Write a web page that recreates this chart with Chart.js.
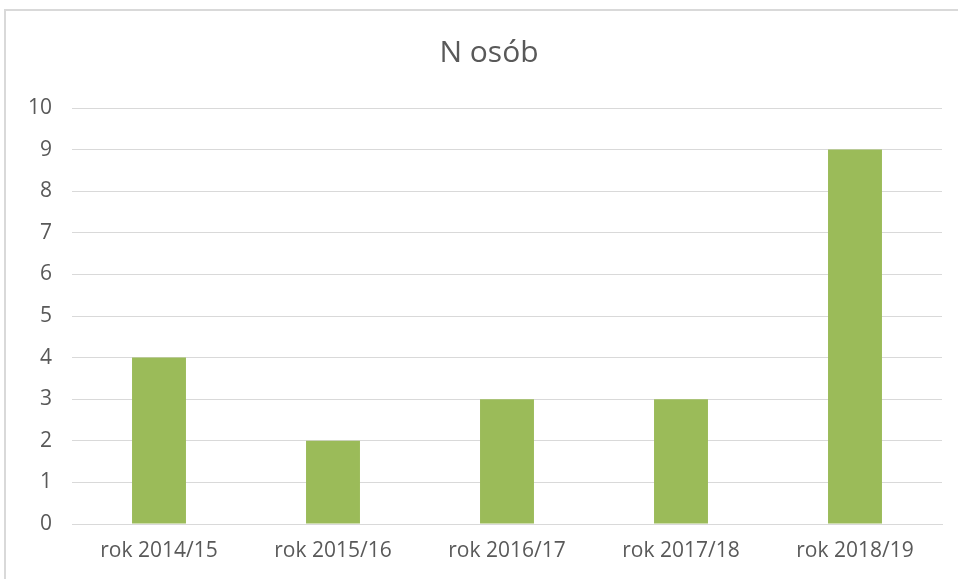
<!DOCTYPE html>
<html>
<head>
<meta charset="utf-8">
<script src="https://cdn.jsdelivr.net/npm/chart.js@4"></script>
<style>
  html, body { margin: 0; padding: 0; background: #ffffff; }
  #wrap { position: relative; width: 958px; height: 579px; overflow: hidden; background: #fff; }
  #frame { position: absolute; left: 4px; top: 9px; right: -2px; bottom: -2px; border-left: 2px solid #d9d9d9; border-top: 2px solid #d9d9d9; }
  canvas { position: absolute; left: 0; top: 0; }
</style>
</head>
<body>
<div id="wrap">
  <div id="frame"></div>
  <canvas id="c" width="958" height="579"></canvas>
</div>
<script>
const categories = ["rok 2014/15", "rok 2015/16", "rok 2016/17", "rok 2017/18", "rok 2018/19"];
const values = [4, 2, 3, 3, 9];
const chartTitle = "N osób";
const yMin = 0;
const yMax = 10;
const yStep = 1;

const FONT = "'Open Sans', 'Noto Sans', sans-serif";
const GRAY = "#595959";
const GRID = "#d9d9d9";

// Title centred on the whole chart frame (as in the source), not the plot box
const frameTitle = {
  id: "frameTitle",
  afterDraw(chart) {
    const ctx = chart.ctx;
    ctx.save();
    ctx.fillStyle = GRAY;
    ctx.font = "normal 30px " + FONT;
    ctx.textAlign = "center";
    ctx.textBaseline = "middle";
    ctx.fillText(chartTitle, 489, 53);
    ctx.restore();
  }
};

new Chart(document.getElementById("c"), {
  type: "bar",
  data: {
    labels: categories,
    datasets: [{
      label: chartTitle,
      data: values,
      backgroundColor: "#9bbb59",
      borderWidth: 0,
      categoryPercentage: 1,
      barPercentage: 0.31
    }]
  },
  plugins: [frameTitle],
  options: {
    responsive: false,
    animation: false,
    devicePixelRatio: 1,
    layout: { padding: { left: 10, right: 16, top: 108, bottom: 0 } },
    plugins: {
      legend: { display: false },
      tooltip: { enabled: false },
      title: { display: false }
    },
    scales: {
      x: {
        grid: { display: false, drawTicks: false },
        border: { display: true, color: GRID, width: 1 },
        ticks: { color: GRAY, font: { family: FONT, size: 21 }, padding: 14, maxRotation: 0, autoSkip: false },
        afterFit: (s) => { s.height = 55; }
      },
      y: {
        min: yMin,
        max: yMax,
        grid: { color: GRID, lineWidth: 1, drawTicks: false },
        border: { display: false },
        ticks: { stepSize: yStep, color: GRAY, font: { family: FONT, size: 21 }, padding: 20 },
        afterFit: (s) => { s.width = 62; }
      }
    }
  }
});
</script>
</body>
</html>
